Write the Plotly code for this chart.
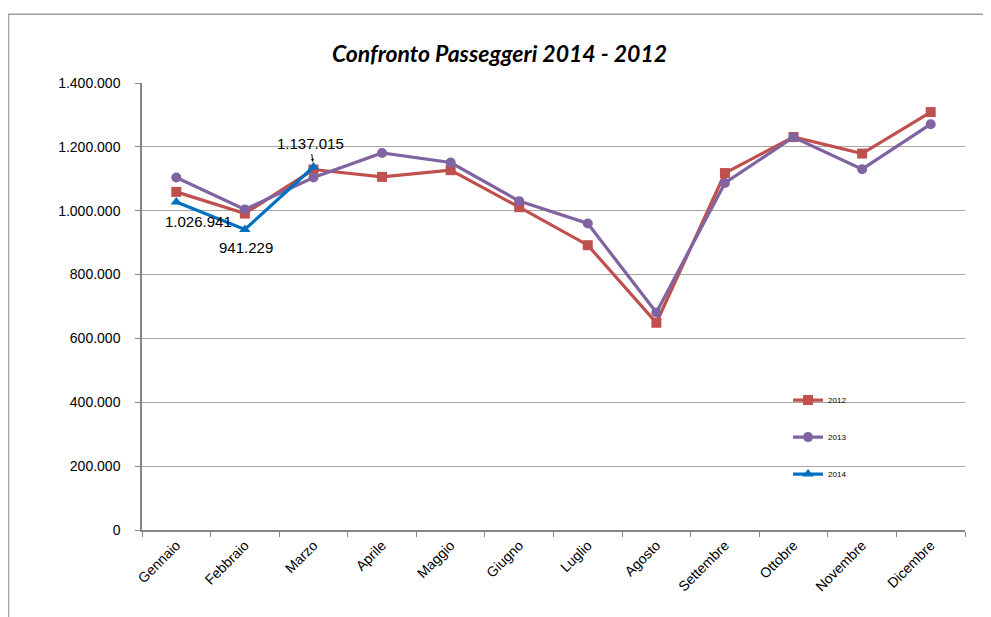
import plotly.graph_objects as go

mesi = ["Gennaio", "Febbraio", "Marzo", "Aprile", "Maggio", "Giugno", "Luglio",
        "Agosto", "Settembre", "Ottobre", "Novembre", "Dicembre"]
pax_2012 = [1059000, 991000, 1129000, 1106000, 1127000, 1011000, 892000,
            649000, 1118000, 1231000, 1179000, 1309000]
pax_2013 = [1104000, 1004000, 1104000, 1181000, 1151000, 1030000, 960000,
            681000, 1087000, 1230000, 1130000, 1271000]
pax_2014 = [1026941, 941229, 1137015]
y_ticks = [0, 200000, 400000, 600000, 800000, 1000000, 1200000, 1400000]

def it(n):
    return f"{n:,}".replace(",", ".")

fig = go.Figure()
fig.add_trace(go.Scatter(x=mesi, y=pax_2012, name="2012", mode="lines+markers",
                         line=dict(color="#C0504D", width=3.2),
                         marker=dict(symbol="square", size=10, color="#C0504D"),
                         legendgroup="a"))
fig.add_trace(go.Scatter(x=mesi, y=pax_2013, name="2013", mode="lines+markers",
                         line=dict(color="#8064A2", width=3.2),
                         marker=dict(symbol="circle", size=10, color="#8064A2"),
                         legendgroup="b"))
fig.add_trace(go.Scatter(x=mesi[:len(pax_2014)], y=pax_2014, name="2014", mode="lines+markers",
                         line=dict(color="#0070C0", width=3.2),
                         marker=dict(symbol="triangle-up", size=10, color="#0070C0"),
                         legendgroup="c"))

lab_font = dict(family="Liberation Sans, Arial, sans-serif", size=15, color="#000000")
fig.add_annotation(x=mesi[0], y=pax_2014[0], text=it(pax_2014[0]), showarrow=False,
                   xshift=22, yshift=-19, font=lab_font)
fig.add_annotation(x=mesi[1], y=pax_2014[1], text=it(pax_2014[1]), showarrow=False,
                   xshift=1, yshift=-18, font=lab_font)
fig.add_annotation(x=mesi[2], y=pax_2014[2], text=it(pax_2014[2]), showarrow=True,
                   ax=-3, ay=-23, arrowhead=2, arrowsize=0.6, arrowwidth=1,
                   arrowcolor="#000000", standoff=5, font=lab_font)

# outer chart frame
fig.add_shape(type="line", xref="paper", yref="paper", x0=-0.2, x1=1.05, y0=1.1536, y1=1.1536,
              line=dict(color="#A0A0A0", width=1.5))
fig.add_shape(type="line", xref="paper", yref="paper", x0=-0.1622, x1=-0.1622, y0=1.1536, y1=-0.2,
              line=dict(color="#A0A0A0", width=1.5))

fig.update_layout(
    width=983, height=609,
    margin=dict(l=134, r=26, t=75, b=87),
    paper_bgcolor="white", plot_bgcolor="white",
    separators=",.",
    title=dict(text="<b><i>Confronto Passeggeri 2014 - 2012</i></b>",
               x=0.5, xanchor="center", y=0.924, yanchor="middle",
               font=dict(family="Lato, sans-serif", size=23, color="#000000")),
    showlegend=True,
    legend=dict(x=0.785, y=0.323, xanchor="left", yanchor="top",
                bgcolor="rgba(0,0,0,0)", traceorder="grouped", tracegroupgap=18,
                font=dict(family="Liberation Sans, Arial, sans-serif", size=8, color="#000000"),
                itemwidth=30),
    xaxis=dict(type="category", showgrid=False, showline=True, linecolor="#868686", linewidth=1.5,
               ticks="outside", tickson="boundaries", ticklen=5, tickcolor="#868686",
               tickangle=-45, tickfont=dict(family="Liberation Sans, Arial, sans-serif", size=14, color="#000000"),
               range=[-0.5, 11.5], fixedrange=True),
    yaxis=dict(range=[0, 1400000], tickvals=y_ticks, ticktext=[it(v) for v in y_ticks],
               showgrid=True, gridcolor="#A6A6A6", gridwidth=1.2,
               showline=True, linecolor="#868686", linewidth=1.5,
               ticks="outside", ticklen=5, tickcolor="#868686", zeroline=False,
               ticklabelstandoff=12,
               tickfont=dict(family="Liberation Sans, Arial, sans-serif", size=14, color="#000000")),
)

fig.write_html("out.html")
